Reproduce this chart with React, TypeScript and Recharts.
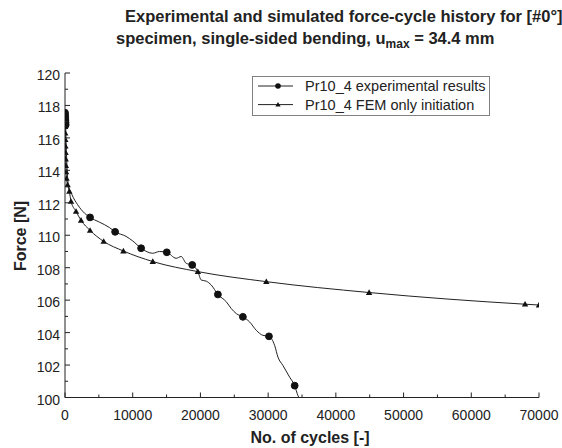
import React from 'react';
import { LineChart, Line, XAxis, YAxis, Legend } from 'recharts';

// Experimental curve (cycles, force [N])
const expCycles = [0, 20, 40, 60, 80, 100, 150, 220, 300, 490, 1030, 1870, 2860, 3700, 5070, 6550, 7400, 9020, 10000, 11240, 12960, 13950, 15030, 16420, 17160, 17900, 18790, 19620, 20120, 20860, 21600, 22580, 23820, 24560, 25300, 26270, 27260, 28250, 29230, 30120, 30960, 31450, 32190, 33180, 33920, 34410, 34550];
const expForce = [117.55, 117.4, 117.25, 117.1, 116.95, 116.8, 116.0, 115.0, 114.2, 113.12, 112.5, 111.88, 111.37, 111.1, 110.81, 110.48, 110.21, 109.93, 109.65, 109.2, 108.89, 109.0, 108.95, 108.58, 108.69, 108.27, 108.17, 107.76, 107.24, 107.17, 106.93, 106.35, 105.9, 105.48, 105.17, 104.97, 104.66, 104.14, 103.83, 103.77, 103.21, 102.49, 101.97, 101.25, 100.73, 100.11, 100.0];
// cycles at which the experimental curve carries a marker
const expMarkerCycles = [0, 20, 40, 60, 80, 100, 3700, 7400, 11240, 15030, 18790, 22580, 26270, 30120, 33920];

// FEM only initiation (cycles, force [N])
const femCycles = [0, 10, 20, 30, 45, 60, 80, 100, 125, 160, 220, 390, 640, 890, 1630, 2370, 3700, 5710, 8620, 12960, 19620, 29730, 44910, 67940, 70000];
const femForce = [117.5, 117.1, 116.7, 116.3, 115.9, 115.5, 115.1, 114.7, 114.3, 113.9, 113.5, 113.1, 112.71, 112.09, 111.47, 110.92, 110.3, 109.62, 109.03, 108.38, 107.76, 107.14, 106.47, 105.75, 105.7];

const xTicks = [0, 5000, 10000, 15000, 20000, 25000, 30000, 35000, 40000, 45000, 50000, 55000, 60000, 65000, 70000];
const yTicks = [100, 101, 102, 103, 104, 105, 106, 107, 108, 109, 110, 111, 112, 113, 114, 115, 116, 117, 118, 119, 120];
const seriesNames = ['Pr10_4 experimental results', 'Pr10_4 FEM only initiation'];
const titleLine1 = 'Experimental and simulated force-cycle history for [#0°]';
const titleLine1Sub = '8';
const titleLine2a = 'specimen, single-sided bending, u';
const titleLine2Sub = 'max';
const titleLine2b = ' = 34.4 mm';
const xLabel = 'No. of cycles [-]';
const yLabel = 'Force [N]';

const expData = expCycles.map((c, i) => ({ cycles: c, force: expForce[i] }));
const femData = femCycles.map((c, i) => ({ cycles: c, force: femForce[i] }));
const markerSet = new Set(expMarkerCycles);

const FONT = '"Liberation Sans", Arial, Helvetica, sans-serif';
const INK = '#222';

const XTick = (props: any) => {
  const { x, y, payload } = props;
  const v = payload.value;
  const major = v % 10000 === 0;
  return (
    <g>
      <line x1={x} x2={x} y1={y} y2={y - (major ? 5 : 3)} stroke={INK} strokeWidth={1} />
      {major && (
        <text x={x} y={y + 22} textAnchor="middle" fontSize={14} fill={INK} fontFamily={FONT}>
          {v}
        </text>
      )}
    </g>
  );
};

const YTick = (props: any) => {
  const { x, y, payload } = props;
  const v = payload.value;
  const major = v % 2 === 0;
  return (
    <g>
      <line x1={x} x2={x + (major ? 5 : 3)} y1={y} y2={y} stroke={INK} strokeWidth={1} />
      {major && (
        <text x={x - 5} y={y + 7} textAnchor="end" fontSize={14} fill={INK} fontFamily={FONT}>
          {v}
        </text>
      )}
    </g>
  );
};

const CircleDot = (props: any) => {
  const { cx, cy, payload, index } = props;
  if (!markerSet.has(payload.cycles) || cx == null || cy == null) return <g key={'e' + index} />;
  return <circle key={'e' + index} cx={cx} cy={cy} r={3.4} fill="#111" stroke="#111" />;
};

const TriDot = (props: any) => {
  const { cx, cy, index } = props;
  if (cx == null || cy == null) return <g key={'f' + index} />;
  const s = 3.2;
  return (
    <polygon
      key={'f' + index}
      points={`${cx},${cy - s} ${cx - s},${cy + s * 0.75} ${cx + s},${cy + s * 0.75}`}
      fill="#111"
    />
  );
};

const renderLegend = () => (
  <div style={{ width: 238, height: 40, boxSizing: 'border-box', border: '1px solid #808080', background: '#fff' }}>
    <svg width={236} height={38} style={{ display: 'block' }}>
      <line x1={5} x2={40} y1={9} y2={9} stroke={INK} strokeWidth={1} />
      <circle cx={25} cy={9} r={2.8} fill="#111" />
      <line x1={5} x2={40} y1={27.6} y2={27.6} stroke={INK} strokeWidth={1} />
      <polygon points={`25,${27.6 - 2.6} ${22.4},${27.6 + 2} ${27.6},${27.6 + 2}`} fill="#111" />
      <text x={52} y={14} fontSize={14.5} fill={INK} fontFamily={FONT}>{seriesNames[0]}</text>
      <text x={52} y={32.6} fontSize={14.5} fill={INK} fontFamily={FONT}>{seriesNames[1]}</text>
    </svg>
  </div>
);

export default function App() {
  return (
    <div style={{ position: 'absolute', left: 0, top: 0, width: 562, height: 448, overflow: 'hidden', background: '#fff' }}>
      <LineChart
        width={562}
        height={448}
        margin={{ top: 73, right: 23, bottom: 0, left: 0 }}
        style={{ position: 'absolute', left: 0, top: 0 }}
      >
        <XAxis
          dataKey="cycles"
          type="number"
          domain={[0, 70000]}
          ticks={xTicks}
          interval={0}
          height={50.5}
          tickSize={0}
          tickMargin={0}
          tickLine={false}
          tick={<XTick />}
          axisLine={{ stroke: INK, strokeWidth: 1 }}
          allowDataOverflow
        />
        <YAxis
          dataKey="force"
          type="number"
          domain={[100, 120]}
          ticks={yTicks}
          interval={0}
          width={65}
          tickSize={0}
          tickMargin={0}
          tickLine={false}
          tick={<YTick />}
          axisLine={{ stroke: INK, strokeWidth: 1 }}
          allowDataOverflow
        />
        <Legend
          layout="horizontal"
          verticalAlign="middle"
          align="center"
          content={renderLegend}
          wrapperStyle={{ position: 'absolute', left: 252, top: 76, width: 238, height: 40 }}
        />
        <Line
          data={femData}
          dataKey="force"
          name={seriesNames[1]}
          type="monotone"
          stroke={INK}
          strokeWidth={1}
          dot={<TriDot />}
          activeDot={false}
          isAnimationActive={false}
        />
        <Line
          data={expData}
          dataKey="force"
          name={seriesNames[0]}
          type="monotone"
          stroke={INK}
          strokeWidth={1}
          dot={<CircleDot />}
          activeDot={false}
          isAnimationActive={false}
        />
      </LineChart>
      <svg width={562} height={448} style={{ position: 'absolute', left: 0, top: 0, pointerEvents: 'none' }}>
        <text x={125} y={22} fontSize={16.5} fontWeight="bold" fill={INK} fontFamily={FONT}>
          {titleLine1}
          <tspan fontSize={11} dy={4}>{titleLine1Sub}</tspan>
        </text>
        <text x={116} y={44} fontSize={16.5} fontWeight="bold" fill={INK} fontFamily={FONT}>
          {titleLine2a}
          <tspan fontSize={12} dy={4}>{titleLine2Sub}</tspan>
          <tspan dy={-4}>{titleLine2b}</tspan>
        </text>
        <text x={310} y={443} textAnchor="middle" fontSize={16} fontWeight="bold" fill={INK} fontFamily={FONT}>
          {xLabel}
        </text>
        <text x={26} y={236} textAnchor="middle" fontSize={16} fontWeight="bold" fill={INK} fontFamily={FONT} transform="rotate(-90, 26, 236)">
          {yLabel}
        </text>
      </svg>
    </div>
  );
}
